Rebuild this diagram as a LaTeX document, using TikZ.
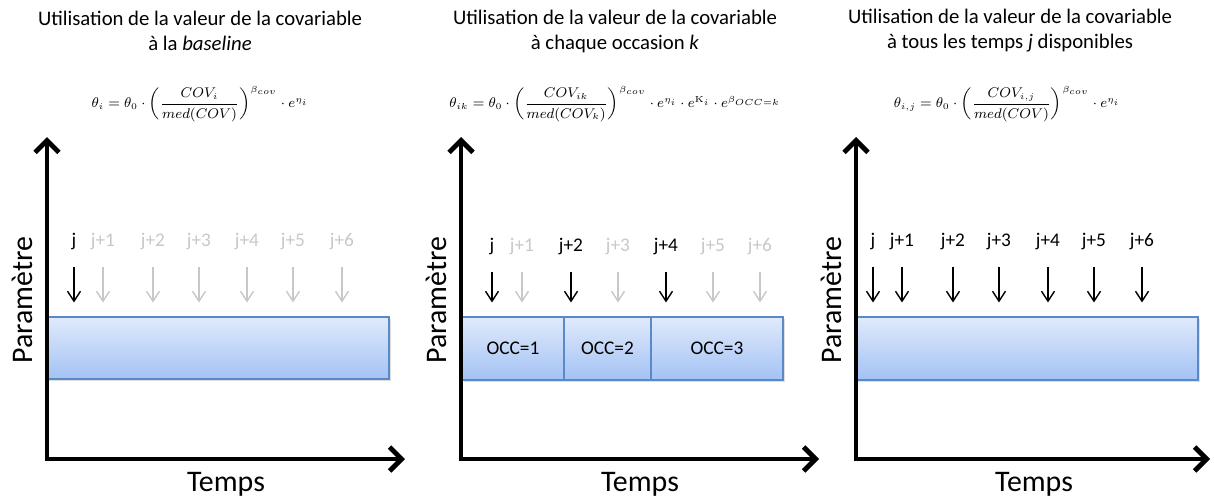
\documentclass[tikz,border=0pt]{standalone}
\usepackage[no-math]{fontspec}
\setmainfont{Carlito}
\usepackage{amsmath}
\usetikzlibrary{arrows.meta,fit,shadows}

\definecolor{bandtop}{HTML}{E0EAFB}
\definecolor{bandbot}{HTML}{A3C2F4}
\definecolor{bandline}{HTML}{5A8AC6}
\definecolor{offgray}{HTML}{C8C8C8}

\begin{document}
\begin{tikzpicture}[x=0.02cm,y=-0.02cm,
  every node/.style={font=\fontsize{11}{14}\selectfont},
  ttl/.style={align=center,font=\fontsize{11.8}{14.2}\selectfont},
  eq/.style={font=\fontsize{7.6}{9}\selectfont},
  axlab/.style={font=\fontsize{17}{20}\selectfont},
  band/.style={draw=bandline,line width=0.6pt,top color=bandtop,bottom color=bandbot,inner sep=0pt,
    drop shadow={opacity=0.25,shadow xshift=1pt,shadow yshift=-1pt}},
  tk/.style={inner sep=0pt},
  tkoff/.style={tk,text=offgray},
  dn/.style={-{Straight Barb[length=2mm,width=2.6mm]},line width=0.8pt,shorten <=3.2mm,shorten >=2.8mm},
  dnoff/.style={dn,draw=offgray},
  axis/.style={{Straight Barb[length=2.4mm,width=4.8mm]}-{Straight Barb[length=2.4mm,width=4.8mm]},line width=2.8pt}]
\useasboundingbox (0,0) rectangle (1214,501);

% baseline
\node[ttl] (title1) at (200,31) {Utilisation de la valeur de la covariable\\à la \textit{baseline}};
\node[eq] (eq1) at (200,104) {$\theta_i=\theta_0\cdot\left(\dfrac{COV_i}{med(COV)}\right)^{\beta_{cov}}\cdot e^{\eta_i}$};
\coordinate (top1) at (47,137); \coordinate (o1) at (47,459); \coordinate (end1) at (405,459);
\coordinate (bl1) at (47,317); \coordinate (br1) at (389,379);
\node[band,fit=(bl1)(br1)] (box1) {};
\node[tk] (a0) at (74,242) {j}; \node[tkoff] (a1) at (103,242) {j+1}; \node[tkoff] (a2) at (153,242) {j+2};
\node[tkoff] (a3) at (199,242) {j+3}; \node[tkoff] (a4) at (247,242) {j+4}; \node[tkoff] (a5) at (293,242) {j+5};
\node[tkoff] (a6) at (342,242) {j+6};
\draw[dn] (a0) -- (a0 |- box1.north); \draw[dnoff] (a1) -- (a1 |- box1.north); \draw[dnoff] (a2) -- (a2 |- box1.north);
\draw[dnoff] (a3) -- (a3 |- box1.north); \draw[dnoff] (a4) -- (a4 |- box1.north); \draw[dnoff] (a5) -- (a5 |- box1.north);
\draw[dnoff] (a6) -- (a6 |- box1.north);
\draw[axis] (top1) -- (o1) -- (end1);
\node[axlab,rotate=90] (par1) at (22,300) {Paramètre};
\node[axlab] (tps1) at (226,484) {Temps};

% occasions
\node[ttl] (title2) at (615,31) {Utilisation de la valeur de la covariable\\à chaque occasion \textit{k}};
\node[eq] (eq2) at (615,104) {$\theta_{ik}=\theta_0\cdot\left(\dfrac{COV_{ik}}{med(COV_k)}\right)^{\beta_{cov}}\cdot e^{\eta_i}\cdot e^{\mathrm{K}_i}\cdot e^{\beta_{OCC=k}}$};
\coordinate (top2) at (461,137); \coordinate (o2) at (461,459); \coordinate (end2) at (819,459);
\coordinate (bl2) at (462,317); \coordinate (c12) at (564,380); \coordinate (c23) at (651,317); \coordinate (br2) at (783,380);
\node[band,fit=(bl2)(c12),label={center:{OCC=1}}] (occ1) {};
\node[band,fit=(c12)(c23),label={center:{OCC=2}}] (occ2) {};
\node[band,fit=(c23)(br2),label={center:{OCC=3}}] (occ3) {};
\node[tk] (b0) at (492,247) {j}; \node[tkoff] (b1) at (522,247) {j+1}; \node[tk] (b2) at (571,247) {j+2};
\node[tkoff] (b3) at (618,247) {j+3}; \node[tk] (b4) at (666,247) {j+4}; \node[tkoff] (b5) at (713,247) {j+5};
\node[tkoff] (b6) at (760,247) {j+6};
\draw[dn] (b0) -- (b0 |- occ1.north); \draw[dnoff] (b1) -- (b1 |- occ1.north); \draw[dn] (b2) -- (b2 |- occ2.north);
\draw[dnoff] (b3) -- (b3 |- occ2.north); \draw[dn] (b4) -- (b4 |- occ3.north); \draw[dnoff] (b5) -- (b5 |- occ3.north);
\draw[dnoff] (b6) -- (b6 |- occ3.north);
\draw[axis] (top2) -- (o2) -- (end2);
\node[axlab,rotate=90] (par2) at (436,300) {Paramètre};
\node[axlab] (tps2) at (640,484) {Temps};

% tous les temps
\node[ttl] (title3) at (1010,31) {Utilisation de la valeur de la covariable\\à tous les temps \textit{j} disponibles};
\node[eq] (eq3) at (1007,104) {$\theta_{i,j}=\theta_0\cdot\left(\dfrac{COV_{i,j}}{med(COV)}\right)^{\beta_{cov}}\cdot e^{\eta_i}$};
\coordinate (top3) at (856,137); \coordinate (o3) at (856,459); \coordinate (end3) at (1210,459);
\coordinate (bl3) at (856,317); \coordinate (br3) at (1198,380);
\node[band,fit=(bl3)(br3)] (box3) {};
\node[tk] (c0) at (873,242) {j}; \node[tk] (c1) at (902,242) {j+1}; \node[tk] (c2) at (953,242) {j+2};
\node[tk] (c3) at (999,242) {j+3}; \node[tk] (c4) at (1048,242) {j+4}; \node[tk] (c5) at (1094,242) {j+5};
\node[tk] (c6) at (1142,242) {j+6};
\draw[dn] (c0) -- (c0 |- box3.north); \draw[dn] (c1) -- (c1 |- box3.north); \draw[dn] (c2) -- (c2 |- box3.north);
\draw[dn] (c3) -- (c3 |- box3.north); \draw[dn] (c4) -- (c4 |- box3.north); \draw[dn] (c5) -- (c5 |- box3.north);
\draw[dn] (c6) -- (c6 |- box3.north);
\draw[axis] (top3) -- (o3) -- (end3);
\node[axlab,rotate=90] (par3) at (831,300) {Paramètre};
\node[axlab] (tps3) at (1034,484) {Temps};
\end{tikzpicture}
\end{document}
